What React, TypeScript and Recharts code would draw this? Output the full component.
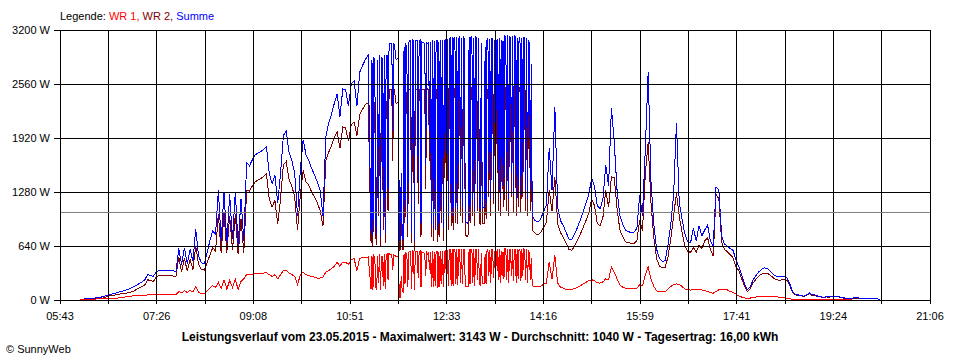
import React from 'react';
import { LineChart, Line, XAxis, YAxis, CartesianGrid, ReferenceLine } from 'recharts';

// Sample times (3-minute readings, 1-minute readings 11:13-14:04)
const sampleTimes = `
06:04 06:07 06:10 06:13 06:16 06:19 06:22 06:25 06:28 06:31
06:34 06:37 06:40 06:43 06:46 06:49 06:52 06:55 06:58 07:01
07:04 07:07 07:10 07:13 07:16 07:19 07:22 07:25 07:28 07:31
07:34 07:37 07:40 07:43 07:46 07:49 07:52 07:55 07:58 08:01
08:04 08:07 08:10 08:13 08:16 08:19 08:22 08:25 08:28 08:31
08:34 08:37 08:40 08:43 08:46 08:49 08:52 08:55 08:58 09:01
09:04 09:07 09:10 09:13 09:16 09:19 09:22 09:25 09:28 09:31
09:34 09:37 09:40 09:43 09:46 09:49 09:52 09:55 09:58 10:01
10:04 10:07 10:10 10:13 10:16 10:19 10:22 10:25 10:28 10:31
10:34 10:37 10:40 10:43 10:46 10:49 10:52 10:55 10:58 11:01
11:04 11:07 11:10
11:13 11:14 11:15 11:16 11:17 11:18 11:19 11:20 11:21 11:22
11:23 11:24 11:25 11:26 11:27 11:28 11:29 11:30 11:31 11:32
11:33 11:34 11:35 11:36 11:37 11:38 11:39 11:40 11:41 11:42
11:43 11:44 11:45 11:46 11:47 11:48 11:49 11:50 11:51 11:52
11:53 11:54 11:55 11:56 11:57 11:58 11:59 12:00 12:01 12:02
12:03 12:04 12:05 12:06 12:07 12:08 12:09 12:10 12:11 12:12
12:13 12:14 12:15 12:16 12:17 12:18 12:19 12:20 12:21 12:22
12:23 12:24 12:25 12:26 12:27 12:28 12:29 12:30 12:31 12:32
12:33 12:34 12:35 12:36 12:37 12:38 12:39 12:40 12:41 12:42
12:43 12:44 12:45 12:46 12:47 12:48 12:49 12:50 12:51 12:52
12:53 12:54 12:55 12:56 12:57 12:58 12:59 13:00 13:01 13:02
13:03 13:04 13:05 13:06 13:07 13:08 13:09 13:10 13:11 13:12
13:13 13:14 13:15 13:16 13:17 13:18 13:19 13:20 13:21 13:22
13:23 13:24 13:25 13:26 13:27 13:28 13:29 13:30 13:31 13:32
13:33 13:34 13:35 13:36 13:37 13:38 13:39 13:40 13:41 13:42
13:43 13:44 13:45 13:46 13:47 13:48 13:49 13:50 13:51 13:52
13:53 13:54 13:55 13:56 13:57 13:58 13:59 14:00 14:01 14:02
14:03 14:04
14:07 14:10 14:13 14:16 14:19 14:22 14:25 14:28 14:31
14:34 14:37 14:40 14:43 14:46 14:49 14:52 14:55 14:58 15:01
15:04 15:07 15:10 15:13 15:16 15:19 15:22 15:25 15:28 15:31
15:34 15:37 15:40 15:43 15:46 15:49 15:52 15:55 15:58 16:01
16:04 16:07 16:10 16:13 16:16 16:19 16:22 16:25 16:28 16:31
16:34 16:37 16:40 16:43 16:46 16:49 16:52 16:55 16:58 17:01
17:04 17:07 17:10 17:13 17:16 17:19 17:22 17:25 17:28 17:31
17:34 17:37 17:40 17:43 17:46 17:49 17:52 17:55 17:58 18:01
18:04 18:07 18:10 18:13 18:16 18:19 18:22 18:25 18:28 18:31
18:34 18:37 18:40 18:43 18:46 18:49 18:52 18:55 18:58 19:01
19:04 19:07 19:10 19:13 19:16 19:19 19:22 19:25 19:28 19:31
19:34 19:37 19:40 19:43 19:46 19:49 19:52 19:55 19:58 20:01
20:04 20:07 20:10 20:13 20:16
`.trim().split(/\s+/);

// WR 1 (W)
const wr1 = [
  0, 5, 8, 8, 10, 10, 12, 12, 15, 15,
  15, 18, 20, 22, 25, 30, 35, 40, 45, 50,
  50, 50, 55, 55, 60, 60, 60, 60, 60, 62,
  62, 62, 62, 62, 62, 100, 85, 110, 90, 115,
  95, 160, 90, 75, 70, 110, 140, 170, 150, 210,
  140, 240, 130, 230, 150, 250, 120, 220, 250, 300,
  300, 305, 315, 320, 320, 320, 325, 300, 280, 300,
  250, 300, 350, 355, 320, 300, 280, 180, 300, 330,
  300, 290, 280, 270, 260, 260, 270, 330, 350, 370,
  400, 450, 400, 450, 450, 420, 480, 490, 350, 495,
  500, 505, 510,
  130, 520, 120, 520, 500, 150, 130, 520, 200, 540,
  120, 520, 520, 170, 540, 130, 520, 540, 240, 550,
  540, 545, 540, 350, 540, 530, 520, 520, 520, 520,
  30, 30, 280, 120, 100, 550, 190, 560, 550, 150,
  560, 580, 580, 130, 580, 570, 120, 580, 580, 580,
  260, 570, 580, 150, 570, 560, 560, 540, 280, 560,
  540, 560, 350, 570, 150, 580, 150, 570, 170, 580,
  580, 140, 570, 150, 580, 190, 580, 150, 570, 580,
  170, 590, 170, 600, 600, 170, 600, 170, 600, 600,
  190, 600, 180, 600, 600, 200, 600, 190, 600, 600,
  160, 160, 160, 160, 600, 190, 600, 600, 200, 600,
  170, 600, 600, 240, 600, 190, 180, 560, 190, 190,
  190, 540, 190, 580, 600, 280, 590, 200, 600, 600,
  260, 580, 190, 570, 590, 240, 600, 200, 580, 280,
  570, 250, 610, 600, 240, 610, 200, 600, 600, 280,
  610, 220, 600, 600, 200, 600, 250, 600, 600, 220,
  600, 280, 600, 590, 240, 600, 200, 580, 560, 240,
  500, 170,
  155, 155, 160, 190, 200, 450, 250, 530, 200,
  150, 140, 125, 120, 125, 135, 150, 170, 190, 210,
  230, 240, 230, 205, 200, 215, 250, 240, 390, 330,
  250, 180, 150, 140, 135, 135, 135, 140, 180, 170,
  300, 390, 250, 160, 110, 95, 95, 100, 130, 160,
  180, 190, 185, 160, 130, 120, 118, 125, 125, 125,
  120, 110, 100, 90, 80, 100, 120, 130, 130, 120,
  100, 90, 70, 50, 35, 25, 20, 22, 30, 35,
  40, 45, 45, 45, 45, 42, 40, 35, 30, 25,
  20, 15, 10, 8, 5, 5, 5, 4, 4, 3,
  3, 3, 2, 2, 2, 2, 2, 2, 2, 1,
  1, 1, 1, 0, 0, 0, 0, 0, 0, 0,
  0, 0, 0, 0, 0,
];

// WR 2 (W)
const wr2 = [
  0, 5, 8, 10, 10, 12, 12, 15, 20, 32,
  45, 50, 55, 62, 70, 75, 80, 85, 95, 105,
  125, 145, 160, 180, 240, 230, 220, 270, 290, 290,
  285, 285, 290, 285, 280, 510, 330, 500, 340, 480,
  360, 640, 420, 360, 355, 440, 530, 620, 580, 1020,
  560, 1030, 560, 1000, 590, 1020, 540, 960, 560, 1300,
  1290, 1350, 1400, 1420, 1440, 1460, 1500, 1200, 1100, 1180,
  900, 1200, 1600, 1640, 1430, 1350, 1220, 830, 1250, 1540,
  1400, 1360, 1280, 1220, 1150, 1060, 880, 1650, 1750, 1830,
  1930, 1990, 1800, 2050, 2040, 1880, 2080, 2110, 1950, 2200,
  2260, 2320, 2330,
  670, 2330, 640, 2360, 2300, 750, 650, 2330, 1000, 2340,
  630, 2360, 2330, 830, 2340, 670, 2350, 2340, 1060, 2380,
  2500, 2500, 2500, 1650, 2500, 2500, 2340, 2330, 2340, 2330,
  590, 600, 1220, 670, 590, 2460, 910, 2460, 2460, 750,
  2490, 2500, 2500, 670, 2500, 2500, 580, 2500, 2500, 2500,
  1140, 2500, 2500, 750, 2490, 2490, 2490, 2500, 1320, 2490,
  2500, 2490, 1650, 2490, 750, 2500, 700, 2500, 830, 2500,
  2500, 690, 2490, 750, 2500, 910, 2500, 700, 2500, 2500,
  830, 2500, 830, 2500, 2510, 880, 2520, 830, 2500, 2510,
  910, 2520, 900, 2500, 2520, 1000, 2510, 910, 2520, 2500,
  780, 760, 750, 770, 2520, 910, 2510, 2520, 1000, 2500,
  880, 2520, 2510, 1060, 2500, 910, 900, 2490, 910, 900,
  910, 2460, 960, 2500, 2500, 1220, 2500, 1000, 2500, 2500,
  1140, 2500, 960, 2490, 2500, 1060, 2500, 1000, 2500, 1320,
  2500, 1100, 2520, 2520, 1060, 2530, 1000, 2520, 2500, 1220,
  2520, 1030, 2540, 2520, 1000, 2510, 1100, 2500, 2520, 1030,
  2500, 1220, 2520, 2500, 1060, 2500, 1000, 2500, 2490, 1060,
  2300, 830,
  790, 770, 800, 860, 920, 1300, 1050, 1460, 900,
  800, 740, 670, 600, 590, 640, 710, 780, 860, 940,
  1030, 1200, 1120, 910, 880, 980, 1300, 1100, 1460, 1450,
  1080, 830, 750, 690, 680, 670, 670, 700, 950, 820,
  1500, 1870, 1150, 740, 490, 400, 380, 385, 510, 720,
  1000, 1265, 990, 800, 640, 575, 565, 620, 570, 650,
  610, 700, 740, 600, 520, 1250, 1200, 680, 600, 570,
  540, 500, 400, 350, 260, 170, 100, 125, 195, 240,
  280, 305, 320, 320, 300, 270, 245, 237, 237, 240,
  235, 180, 90, 62, 55, 50, 40, 55, 75, 52,
  55, 40, 36, 27, 36, 32, 40, 36, 40, 32,
  22, 20, 18, 20, 22, 22, 20, 18, 18, 20,
  18, 16, 14, 0, 0,
];

// Summe (W)
const summe = [
  0, 10, 15, 18, 20, 22, 25, 30, 38, 50,
  60, 68, 75, 85, 95, 105, 115, 125, 140, 155,
  175, 195, 215, 240, 300, 290, 280, 330, 350, 350,
  345, 345, 350, 345, 340, 610, 420, 620, 430, 600,
  460, 840, 520, 440, 430, 560, 700, 820, 780, 1300,
  700, 1280, 680, 1250, 720, 1280, 650, 1200, 700, 1630,
  1590, 1660, 1720, 1740, 1760, 1780, 1820, 1500, 1380, 1480,
  1150, 1500, 1950, 2000, 1750, 1650, 1500, 1000, 1550, 1900,
  1720, 1650, 1560, 1480, 1400, 1300, 1000, 1930, 2100, 2200,
  2330, 2440, 2170, 2500, 2490, 2300, 2560, 2600, 2300, 2700,
  2780, 2850, 2900,
  800, 2850, 760, 2880, 2800, 900, 780, 2850, 1200, 2900,
  750, 2880, 2850, 1000, 2900, 800, 2870, 2900, 1300, 2950,
  3040, 3045, 3040, 2000, 3040, 3030, 2860, 2850, 2860, 2850,
  710, 720, 1500, 800, 710, 3000, 1100, 3020, 3000, 900,
  3050, 3080, 3080, 800, 3080, 3070, 700, 3080, 3080, 3080,
  1400, 3070, 3080, 900, 3060, 3050, 3050, 3040, 1600, 3050,
  3040, 3050, 2000, 3060, 900, 3080, 850, 3070, 1000, 3080,
  3080, 830, 3060, 900, 3080, 1100, 3080, 850, 3070, 3080,
  1000, 3090, 1000, 3100, 3110, 1050, 3120, 1000, 3100, 3110,
  1100, 3120, 1080, 3100, 3120, 1200, 3110, 1100, 3120, 3100,
  940, 920, 910, 930, 3120, 1100, 3110, 3120, 1200, 3100,
  1050, 3120, 3110, 1300, 3100, 1100, 1080, 3050, 1100, 1090,
  1100, 3000, 1150, 3080, 3100, 1500, 3090, 1200, 3100, 3100,
  1400, 3080, 1150, 3060, 3090, 1300, 3100, 1200, 3080, 1600,
  3070, 1350, 3130, 3120, 1300, 3140, 1200, 3120, 3100, 1500,
  3130, 1250, 3143, 3120, 1200, 3110, 1350, 3100, 3120, 1250,
  3100, 1500, 3120, 3090, 1300, 3100, 1200, 3080, 3050, 1300,
  2800, 1000,
  940, 925, 960, 1050, 1120, 1800, 1300, 2290, 1100,
  940, 880, 800, 720, 720, 780, 860, 950, 1050, 1150,
  1250, 1440, 1350, 1120, 1080, 1200, 1600, 1350, 2275, 1870,
  1300, 1000, 900, 830, 810, 800, 805, 850, 1240, 1000,
  1800, 2700, 1400, 900, 600, 490, 455, 470, 650, 900,
  1250, 2100, 1150, 950, 780, 690, 680, 850, 700, 880,
  760, 830, 890, 700, 630, 1340, 1300, 760, 660, 640,
  610, 590, 480, 400, 300, 200, 125, 150, 230, 285,
  330, 360, 380, 375, 350, 310, 285, 275, 275, 280,
  270, 200, 100, 70, 60, 55, 45, 60, 85, 60,
  60, 45, 40, 30, 40, 35, 45, 40, 45, 35,
  25, 22, 20, 22, 25, 25, 22, 20, 20, 22,
  20, 18, 15, 0, 0,
];

const xTickLabels = ['05:43', '07:26', '09:08', '10:51', '12:33', '14:16', '15:59', '17:41', '19:24', '21:06'];
const yTicks = [0, 640, 1280, 1920, 2560, 3200];
const averageW = 1040;
const seriesNames = ['WR 1', 'WR 2', 'Summe'];
const seriesColors = ['#ff0000', '#800000', '#0000ff'];
const titleText = 'Leistungsverlauf vom 23.05.2015 - Maximalwert: 3143 W - Durchschnitt: 1040 W - Tagesertrag: 16,00 kWh';
const copyrightText = '\u00A9 SunnyWeb';

const toMin = (s: string) => {
  const [h, m] = s.split(':').map(Number);
  return h * 60 + m;
};

const X_START = toMin(xTickLabels[0]);
const X_END = toMin(xTickLabels[xTickLabels.length - 1]);
const DIVS = (xTickLabels.length - 1) * 2;
const STEP = (X_END - X_START) / DIVS;
const xTicks = Array.from({ length: DIVS + 1 }, (_, k) => X_START + k * STEP);

const xTickFormatter = (v: number) => {
  const k = Math.round((v - X_START) / STEP);
  return k % 2 === 0 ? xTickLabels[k / 2] : '';
};

const data = sampleTimes.map((t, i) => ({
  t: toMin(t),
  wr1: wr1[i],
  wr2: wr2[i],
  summe: summe[i],
}));

const FONT = '"Liberation Sans", Arial, sans-serif';
const W = 960;
const H = 360;

export default function App() {
  return (
    <div style={{ position: 'absolute', left: 0, top: 0, width: W, height: H, background: '#fff', fontFamily: FONT }}>
      <style>{`.crisp svg line, .crisp svg path { shape-rendering: crispEdges; }`}</style>
      {/* data layer */}
      <div className="crisp" style={{ position: 'absolute', left: 0, top: 0 }}>
        <LineChart width={W} height={H} data={data} margin={{ top: 30, right: 30, bottom: 60, left: 60 }}>
          <XAxis type="number" dataKey="t" domain={[X_START, X_END]} ticks={xTicks} hide />
          <YAxis type="number" domain={[0, 3200]} ticks={yTicks} hide />
          <Line type="linear" dataKey="wr2" name={seriesNames[1]} stroke={seriesColors[1]} strokeWidth={1} dot={false} isAnimationActive={false} />
          <Line type="linear" dataKey="summe" name={seriesNames[2]} stroke={seriesColors[2]} strokeWidth={1} dot={false} isAnimationActive={false} />
          <Line type="linear" dataKey="wr1" name={seriesNames[0]} stroke={seriesColors[0]} strokeWidth={1} dot={false} isAnimationActive={false} />
        </LineChart>
      </div>
      {/* grid / axes layer on top */}
      <div className="crisp" style={{ position: 'absolute', left: 0, top: 0 }}>
        <LineChart width={W} height={H} data={data} margin={{ top: 30, right: 30, bottom: 30, left: 0 }}>
          <CartesianGrid stroke="#000" strokeWidth={1} />
          <XAxis
            type="number"
            dataKey="t"
            domain={[X_START, X_END]}
            ticks={xTicks}
            interval={0}
            tickFormatter={xTickFormatter}
            height={30}
            tickSize={4}
            tickMargin={8}
            axisLine={{ stroke: '#000' }}
            tickLine={{ stroke: '#000' }}
            tick={{ fill: '#000', fontSize: 11, fontFamily: FONT }}
          />
          <YAxis
            type="number"
            domain={[0, 3200]}
            ticks={yTicks}
            interval={0}
            width={60}
            tickSize={6}
            tickMargin={4}
            tickFormatter={(v: number) => `${v} W`}
            axisLine={{ stroke: '#000' }}
            tickLine={{ stroke: '#000' }}
            tick={{ fill: '#000', fontSize: 11, fontFamily: FONT }}
          />
          <Line type="linear" dataKey="summe" stroke="none" strokeWidth={0} dot={false} activeDot={false} legendType="none" isAnimationActive={false} />
          <ReferenceLine y={averageW} stroke="#808080" strokeWidth={1} />
        </LineChart>
      </div>
      {/* legend */}
      <div style={{ position: 'absolute', left: 60, top: 10, fontSize: 11, lineHeight: '13px', whiteSpace: 'nowrap', color: '#000' }}>
        Legende:{' '}
        <span style={{ color: seriesColors[0] }}>{seriesNames[0]},</span>{' '}
        <span style={{ color: seriesColors[1] }}>{seriesNames[1]},</span>{' '}
        <span style={{ color: seriesColors[2] }}>{seriesNames[2]}</span>
      </div>
      {/* title */}
      <div style={{ position: 'absolute', left: 0, top: 330, width: W, textAlign: 'center', fontSize: 12, lineHeight: '14px', fontWeight: 'bold', color: '#000', whiteSpace: 'nowrap' }}>
        {titleText}
      </div>
      <div style={{ position: 'absolute', left: 6, top: 343, fontSize: 11, lineHeight: '13px', color: '#000', whiteSpace: 'nowrap' }}>
        {copyrightText}
      </div>
    </div>
  );
}
